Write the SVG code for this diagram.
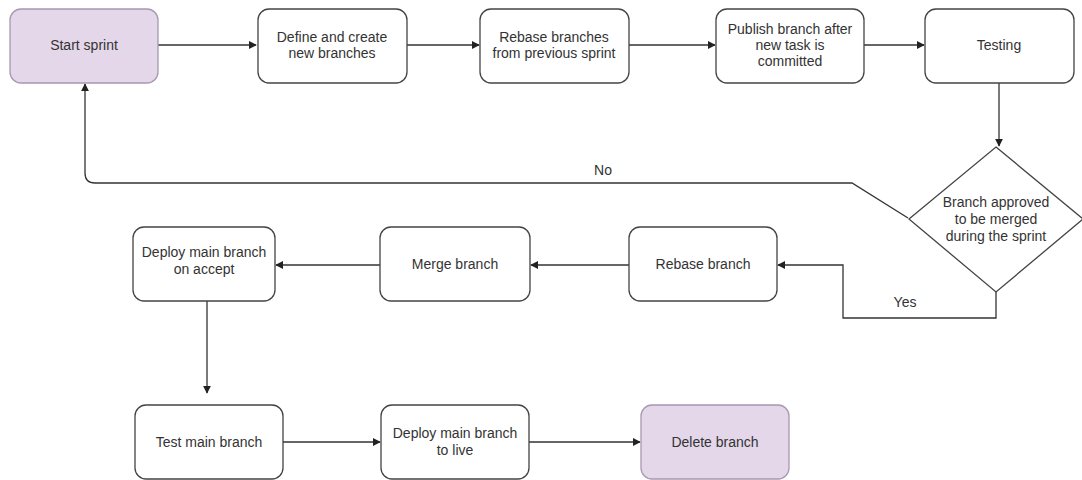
<svg xmlns="http://www.w3.org/2000/svg" width="1082" height="480" viewBox="0 0 1082 480">
<defs>
<style>
.n{fill:#fff;stroke:#444;stroke-width:1.3}
.p{fill:#e3d7e9;stroke:#a898b0;stroke-width:1.3}
.t{font-family:"Liberation Sans",Arial,sans-serif;font-size:14px;fill:#333;text-anchor:middle}
.c{fill:none;stroke:#333;stroke-width:1.3}
</style>
<marker id="a" viewBox="0 0 10 10" refX="9" refY="5" markerWidth="8" markerHeight="8" markerUnits="userSpaceOnUse" orient="auto"><path d="M0,0 L10,5 L0,10 Z" fill="#222"/></marker>
</defs>
<rect width="1082" height="480" fill="#fff"/>
<g id="connectors">
<path class="c" d="M158,45 H256" marker-end="url(#a)"/>
<path class="c" d="M407,45 H479" marker-end="url(#a)"/>
<path class="c" d="M629,45 H715" marker-end="url(#a)"/>
<path class="c" d="M864,45 H924" marker-end="url(#a)"/>
<path class="c" d="M999,83 V146" marker-end="url(#a)"/>
<path class="c" d="M908,218 L852,183 H95 Q85,183 85,173 V84" marker-end="url(#a)"/>
<path class="c" d="M996,292 V318 H843 V265 H778" marker-end="url(#a)"/>
<path class="c" d="M629,265 H531" marker-end="url(#a)"/>
<path class="c" d="M380,265 H276" marker-end="url(#a)"/>
<path class="c" d="M207,301 V393" marker-end="url(#a)"/>
<path class="c" d="M283,442 H380" marker-end="url(#a)"/>
<path class="c" d="M529,442 H640" marker-end="url(#a)"/>
<text class="t" x="603" y="175">No</text>
<text class="t" x="905" y="307">Yes</text>
</g>
<g id="start"><rect class="p" x="10" y="9" width="148" height="74" rx="11"/><text class="t" x="84" y="50">Start sprint</text></g>
<g id="define"><rect class="n" x="258" y="9" width="149" height="74" rx="11"/><text class="t" x="332" y="42">Define and create</text><text class="t" x="332" y="58">new branches</text></g>
<g id="rebase-prev"><rect class="n" x="480" y="9" width="149" height="74" rx="11"/><text class="t" x="554" y="42">Rebase branches</text><text class="t" x="554" y="58">from previous sprint</text></g>
<g id="publish"><rect class="n" x="716" y="9" width="148" height="74" rx="11"/><text class="t" x="790" y="34">Publish branch after</text><text class="t" x="790" y="50">new task is</text><text class="t" x="790" y="66">committed</text></g>
<g id="testing"><rect class="n" x="925" y="9" width="149" height="74" rx="11"/><text class="t" x="999" y="50">Testing</text></g>
<g id="decision"><path class="n" d="M996,147 L1083,219 L996,292 L909,219 Z"/><text class="t" x="996" y="207">Branch approved</text><text class="t" x="996" y="224">to be merged</text><text class="t" x="996" y="241">during the sprint</text></g>
<g id="rebase"><rect class="n" x="629" y="227" width="148" height="74" rx="11"/><text class="t" x="703" y="269">Rebase branch</text></g>
<g id="merge"><rect class="n" x="380" y="227" width="150" height="74" rx="11"/><text class="t" x="455" y="269">Merge branch</text></g>
<g id="deploy-accept"><rect class="n" x="133" y="227" width="142" height="74" rx="11"/><text class="t" x="204" y="257">Deploy main branch</text><text class="t" x="204" y="274">on accept</text></g>
<g id="test-main"><rect class="n" x="135" y="405" width="148" height="74" rx="11"/><text class="t" x="209" y="447">Test main branch</text></g>
<g id="deploy-live"><rect class="n" x="381" y="405" width="148" height="74" rx="11"/><text class="t" x="455" y="438">Deploy main branch</text><text class="t" x="455" y="455">to live</text></g>
<g id="delete"><rect class="p" x="641" y="405" width="148" height="74" rx="11"/><text class="t" x="715" y="447">Delete branch</text></g>
</svg>
